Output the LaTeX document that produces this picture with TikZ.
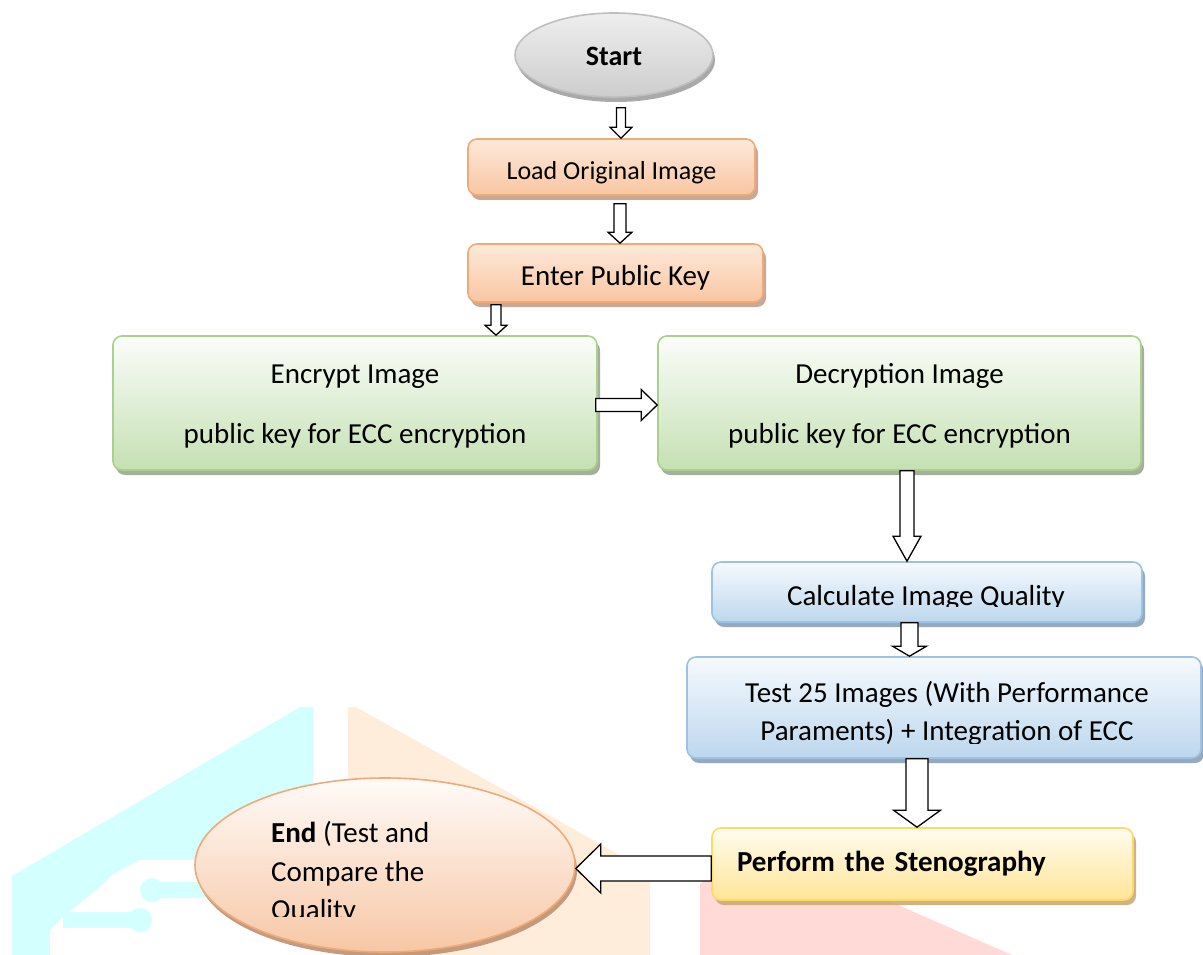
\documentclass[tikz,border=0pt]{standalone}
\usepackage{fontspec}
\setmainfont{Carlito}
\usetikzlibrary{shapes.geometric,shadows,calc}

\definecolor{wmcyan}{RGB}{212,255,255}
\definecolor{wmorange}{RGB}{255,237,220}
\definecolor{wmred}{RGB}{255,218,214}
\definecolor{peachT}{RGB}{253,233,218}
\definecolor{peachB}{RGB}{249,198,162}
\definecolor{peachD}{RGB}{240,170,120}
\definecolor{peachS}{RGB}{196,160,138}
\definecolor{greenT}{RGB}{251,253,249}
\definecolor{greenB}{RGB}{197,224,179}
\definecolor{greenD}{RGB}{169,208,142}
\definecolor{greenS}{RGB}{155,168,145}
\definecolor{blueT}{RGB}{246,250,253}
\definecolor{blueB}{RGB}{189,215,238}
\definecolor{blueD}{RGB}{156,194,229}
\definecolor{blueS}{RGB}{140,160,185}
\definecolor{yelT}{RGB}{255,252,240}
\definecolor{yelB}{RGB}{255,229,151}
\definecolor{yelD}{RGB}{255,217,102}
\definecolor{yelS}{RGB}{200,171,120}
\definecolor{grayT}{RGB}{238,238,238}
\definecolor{grayB}{RGB}{205,205,205}
\definecolor{grayD}{RGB}{191,191,191}
\definecolor{grayS}{RGB}{160,160,160}
\definecolor{endT}{RGB}{255,251,248}
\definecolor{endB}{RGB}{247,199,165}
\definecolor{endS}{RGB}{190,145,115}

\newcommand{\DownArrow}[6]{%
 \draw[blockarr] let \p1=(#2), \p2=(#3) in
 (#1pt-#4pt,\y1) -- (#1pt+#4pt,\y1) -- (#1pt+#4pt,\y2+#6pt) -- (#1pt+#5pt,\y2+#6pt)
 -- (#1pt,\y2) -- (#1pt-#5pt,\y2+#6pt) -- (#1pt-#4pt,\y2+#6pt) -- cycle;}
\newcommand{\RightArrow}[6]{%
 \draw[blockarr] let \p1=(#2), \p2=(#3) in
 (\x1,-#1pt+#4pt) -- (\x2-#6pt,-#1pt+#4pt) -- (\x2-#6pt,-#1pt+#5pt) -- (\x2,-#1pt)
 -- (\x2-#6pt,-#1pt-#5pt) -- (\x2-#6pt,-#1pt-#4pt) -- (\x1,-#1pt-#4pt) -- cycle;}
\newcommand{\LeftArrow}[6]{%
 \draw[blockarr] let \p1=(#2), \p2=(#3) in
 (\x1,-#1pt+#4pt) -- (\x2+#6pt,-#1pt+#4pt) -- (\x2+#6pt,-#1pt+#5pt) -- (\x2,-#1pt)
 -- (\x2+#6pt,-#1pt-#5pt) -- (\x2+#6pt,-#1pt-#4pt) -- (\x1,-#1pt-#4pt) -- cycle;}

\tikzset{
 blockarr/.style={draw=black, fill=white, line width=1.3pt, line join=miter},
 box/.style={rounded corners=9pt, line width=1.6pt, inner sep=0pt, align=center},
 peachbox/.style={box, draw=peachD, top color=peachT, bottom color=peachB,
   drop shadow={shadow xshift=3pt, shadow yshift=-5pt, fill=peachS, opacity=0.9}},
 greenbox/.style={box, draw=greenD, top color=greenT, bottom color=greenB,
   drop shadow={shadow xshift=3pt, shadow yshift=-5pt, fill=greenS, opacity=0.9}},
 bluebox/.style={box, draw=blueD, top color=blueT, bottom color=blueB,
   drop shadow={shadow xshift=3pt, shadow yshift=-5pt, fill=blueS, opacity=0.9}},
 yelbox/.style={box, draw=yelD, top color=yelT, bottom color=yelB,
   drop shadow={shadow xshift=3pt, shadow yshift=-5pt, fill=yelS, opacity=0.9}},
 f26/.style={font=\fontsize{26}{32}\selectfont},
 f29/.style={font=\fontsize{29}{38}\selectfont},
 plain/.style={inner sep=0pt},
}

\begin{document}
\begin{tikzpicture}[x=1pt,y=-1pt]
\useasboundingbox (0,0) rectangle (1203,955);
\fill[white] (0,0) rectangle (1203,955);

% watermark
\fill[wmcyan] (12,955) -- (12,876) -- (300,707) -- (313,707) -- (313,955) -- cycle;
\fill[white] (63,917) -- (100,887) -- (112,875) -- (140,860) -- (313,860) -- (313,955) -- (50,955) -- (50,930) -- cycle;
\fill[wmcyan] (150,882) rectangle (313,898);
\fill[wmcyan] (152,890) circle (12);
\fill[wmcyan] (63,912) rectangle (140,928);
\fill[wmcyan] (140,920) circle (12);
\fill[wmorange] (348,955) -- (348,707) -- (356,707) -- (650,872) -- (650,955) -- cycle;
\fill[wmred] (700,955) -- (700,884) -- (750,840) -- (1012,955) -- cycle;

% nodes
\node[ellipse, draw=grayD, line width=1.6pt, top color=grayT, bottom color=grayB,
  minimum width=198pt, minimum height=84pt, inner sep=0pt,
  drop shadow={shadow xshift=2pt, shadow yshift=-5pt, fill=grayS, opacity=0.9},
  font=\fontsize{28}{34}\selectfont\bfseries, text height=22pt, text depth=0pt] (start) at (614,55) {Start};

\node[peachbox, f26, minimum width=287pt, minimum height=56pt, text height=24pt, text depth=0pt] (load) at (611.5,167) {Load Original Image};
\node[peachbox, f29, minimum width=295pt, minimum height=58pt, text height=24pt, text depth=0pt] (enter) at (615.5,273) {Enter Public Key};

\node[greenbox, font=\fontsize{29}{60}\selectfont, minimum width=484pt, minimum height=134pt] (enc) at (355,403)
  {\rule{0pt}{26pt}Encrypt Image\\public key for ECC encryption};
\node[greenbox, font=\fontsize{29}{60}\selectfont, minimum width=483pt, minimum height=134pt] (dec) at (899.5,403)
  {\rule{0pt}{26pt}Decryption Image\\public key for ECC encryption};

\node[bluebox, minimum width=430pt, minimum height=60pt] (calc) at (927,592) {};
\begin{scope}
\clip (712,560) rectangle (1142,606);
\node[plain, f29, anchor=base] (calctxt) at (926,605) {Calculate Image Quality};
\end{scope}

\node[bluebox, minimum width=514pt, minimum height=101pt] (test) at (944,707.5) {};
\node[plain, f29, anchor=base] (test1) at (947,702) {Test 25 Images (With Performance};
\begin{scope}
\clip (687,715) rectangle (1201,743);
\node[plain, f29, anchor=base] (test2) at (947,740) {Paraments) + Integration of ECC};
\end{scope}

\node[yelbox, font=\fontsize{29}{36}\selectfont\bfseries, text width=371pt, inner xsep=25pt,
  align=left, minimum height=72pt] (perf) at (922.5,864) {Perform the Stenography};

\node[ellipse, draw=peachD, line width=1.6pt, top color=endT, bottom color=endB,
  minimum width=380pt, minimum height=174pt, inner sep=0pt,
  drop shadow={shadow xshift=2pt, shadow yshift=-5pt, fill=endS, opacity=0.9}] (end) at (385,865) {};
\node[plain, f29, anchor=base west] (end1) at (271,842) {\textbf{End} (Test and};
\node[plain, f29, anchor=base west] (end2) at (271,881) {Compare the};
\begin{scope}
\clip (200,890) rectangle (600,916);
\node[plain, f29, anchor=base west] (end3) at (271,919) {Quality};
\end{scope}

% connectors
\DownArrow{621}{[yshift=-10pt]start.south}{load.north}{4.5}{11}{11}
\DownArrow{620}{[yshift=-8pt]load.south}{enter.north}{6}{12}{11}
\DownArrow{496}{[yshift=-2pt]enter.south}{enc.north}{5}{11}{10}
\RightArrow{405}{[xshift=-2pt]enc.east}{dec.west}{6.5}{15.5}{16}
\DownArrow{907}{dec.south}{calc.north}{7}{14}{25}
\DownArrow{909.5}{calc.south}{test.north}{8.5}{17}{10}
\DownArrow{917}{test.south}{perf.north}{11}{23.5}{17}
\LeftArrow{868.5}{perf.west}{end.east}{12.5}{24.5}{25}
\end{tikzpicture}
\end{document}
